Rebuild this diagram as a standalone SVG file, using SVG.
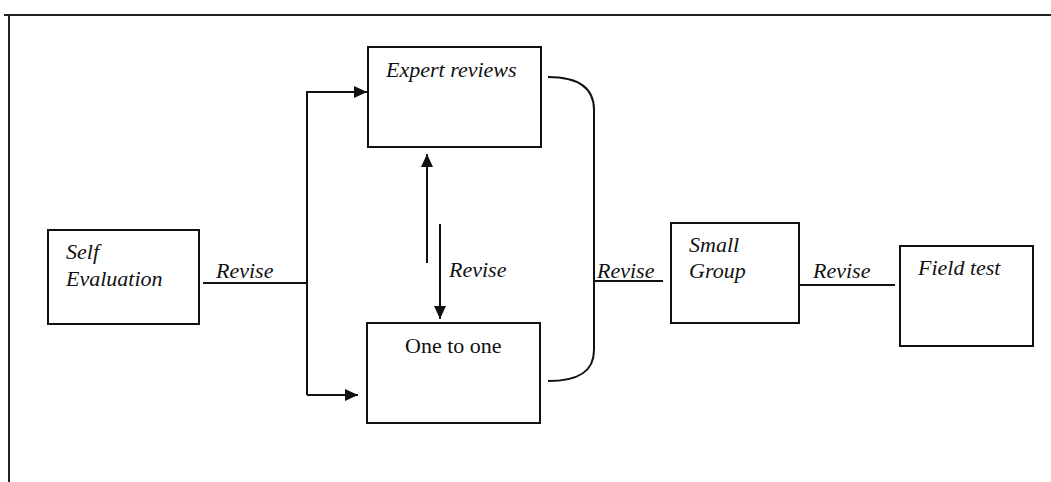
<svg xmlns="http://www.w3.org/2000/svg" width="1051" height="482" viewBox="0 0 1051 482">
  <style>
    .box { fill: #fff; stroke: #111; stroke-width: 2; }
    .frame { fill: none; stroke: #222; stroke-width: 2; }
    .line { fill: none; stroke: #111; stroke-width: 2; }
    .lbl { font-family: "Liberation Serif", "Times New Roman", serif; font-size: 22px; font-style: italic; fill: #111; }
    .plain { font-family: "Liberation Serif", "Times New Roman", serif; font-size: 22px; fill: #111; }
  </style>
  <defs>
    <marker id="arrow" viewBox="0 0 13 12" refX="13" refY="6" markerWidth="13" markerHeight="12" markerUnits="userSpaceOnUse" orient="auto">
      <path d="M0,0 L13,6 L0,12 Z" fill="#111"/>
    </marker>
  </defs>

  <rect width="1051" height="482" fill="#fff"/>

  <!-- page frame -->
  <path class="frame" d="M4,15 H1051 M9,15 V482"/>

  <!-- connectors -->
  <g id="connectors">
    <path class="line" d="M203,283 H307"/>
    <path class="line" d="M307,91 V395"/>
    <path class="line" d="M307,92 H367" marker-end="url(#arrow)"/>
    <path class="line" d="M307,395 H358" marker-end="url(#arrow)"/>
    <path class="line" d="M427,263 V154" marker-end="url(#arrow)"/>
    <path class="line" d="M440,224 V319" marker-end="url(#arrow)"/>
    <path class="line" d="M548,77 C578,77 594,88 594,110 V350 C594,372 578,381 548,381"/>
    <path class="line" d="M594,281 H663"/>
    <path class="line" d="M800,285 H895"/>
    <text class="lbl" x="216" y="278">Revise</text>
    <text class="lbl" x="449" y="277">Revise</text>
    <text class="lbl" x="597" y="278">Revise</text>
    <text class="lbl" x="813" y="278">Revise</text>
  </g>

  <g id="self-evaluation">
    <rect class="box" x="48" y="230" width="151" height="94"/>
    <text class="lbl" x="66" y="259">Self</text>
    <text class="lbl" x="66" y="286">Evaluation</text>
  </g>

  <g id="expert-reviews">
    <rect class="box" x="368" y="47" width="173" height="100"/>
    <text class="lbl" x="386" y="77">Expert reviews</text>
  </g>

  <g id="one-to-one">
    <rect class="box" x="367" y="323" width="173" height="100"/>
    <text class="plain" x="405" y="353">One to one</text>
  </g>

  <g id="small-group">
    <rect class="box" x="671" y="223" width="128" height="100"/>
    <text class="lbl" x="689" y="252">Small</text>
    <text class="lbl" x="689" y="278">Group</text>
  </g>

  <g id="field-test">
    <rect class="box" x="900" y="246" width="133" height="100"/>
    <text class="lbl" x="918" y="275">Field test</text>
  </g>
</svg>
